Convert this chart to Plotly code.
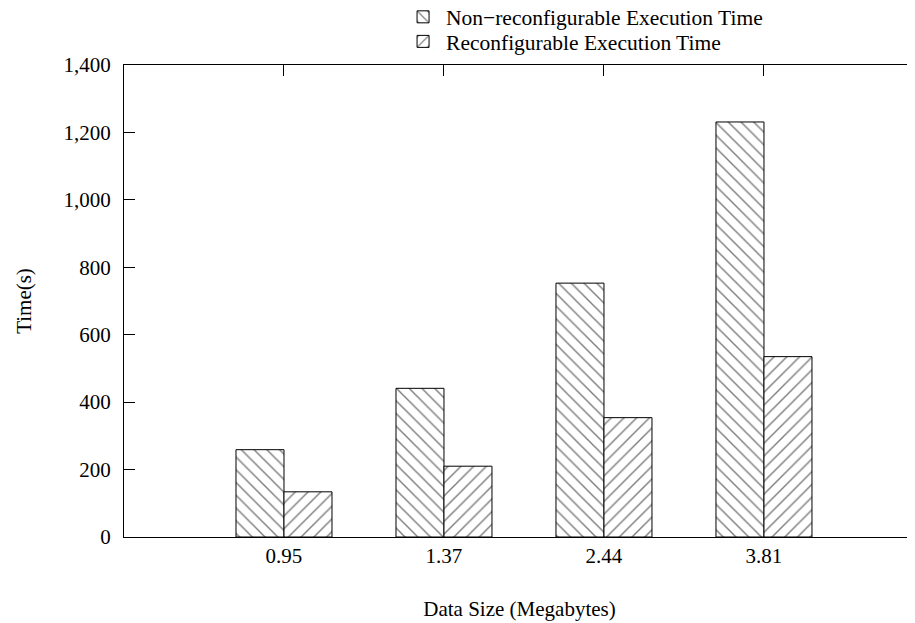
import plotly.graph_objects as go

categories = ["0.95", "1.37", "2.44", "3.81"]
non_reconfig = [259, 441, 753, 1231]
reconfig = [134, 210, 354, 535]
y_ticks = [0, 200, 400, 600, 800, 1000, 1200, 1400]

FONT = "Liberation Serif, Times New Roman, serif"

fig = go.Figure()
fig.add_trace(go.Bar(
    name="Non\u2212reconfigurable Execution Time",
    x=categories, y=non_reconfig, legend="legend",
    marker=dict(color="white", line=dict(color="black", width=1),
                pattern=dict(shape="\\", fgcolor="black", bgcolor="white",
                             size=9, solidity=0.16)),
))
fig.add_trace(go.Bar(
    name="Reconfigurable Execution Time",
    x=categories, y=reconfig, legend="legend2",
    marker=dict(color="white", line=dict(color="black", width=1),
                pattern=dict(shape="/", fgcolor="black", bgcolor="white",
                             size=9, solidity=0.16)),
))
fig.add_trace(go.Scatter(x=[], y=[], yaxis="y2", showlegend=False,
                         hoverinfo="skip"))

legend_common = dict(x=0.349, xanchor="left", yanchor="middle",
                     bgcolor="rgba(0,0,0,0)", itemwidth=36,
                     font=dict(family=FONT, size=21.5, color="black"))

# The page body adds an 8px offset, so the figure is sized/margined to
# place the plot area at the reference's pixel location.
fig.update_layout(
    width=907, height=615,
    margin=dict(l=116, r=0, t=57, b=86, autoexpand=False),
    paper_bgcolor="white", plot_bgcolor="white",
    font=dict(family=FONT, size=21, color="black"),
    barmode="group", bargap=0.4, bargroupgap=0,
    showlegend=True,
    legend=dict(y=1.102, **legend_common),
    legend2=dict(y=1.050, **legend_common),
    xaxis=dict(
        type="category", range=[-1, 3.944],
        showline=True, linecolor="black", linewidth=1, mirror="ticks",
        ticks="inside", ticklen=11, tickcolor="black",
        showgrid=False, layer="below traces", automargin=False,
        ticklabelstandoff=0,
        title=dict(text="Data Size (Megabytes)", standoff=34,
                   font=dict(family=FONT, size=21)),
    ),
    yaxis=dict(
        range=[0, 1400], tickvals=y_ticks, tickformat=",",
        showline=True, linecolor="black", linewidth=1, mirror=False,
        ticks="inside", ticklen=11, tickcolor="black",
        showgrid=False, zeroline=False, layer="below traces",
        automargin=False, ticklabelstandoff=8,
        title=dict(text="Time(s)", standoff=26,
                   font=dict(family=FONT, size=21)),
    ),
    yaxis2=dict(
        overlaying="y", side="right", range=[0, 1400], tickvals=y_ticks,
        ticks="inside", ticklen=3, tickcolor="black",
        showticklabels=False, showline=False, showgrid=False, zeroline=False,
        automargin=False,
    ),
)

fig.write_html("out.html")
